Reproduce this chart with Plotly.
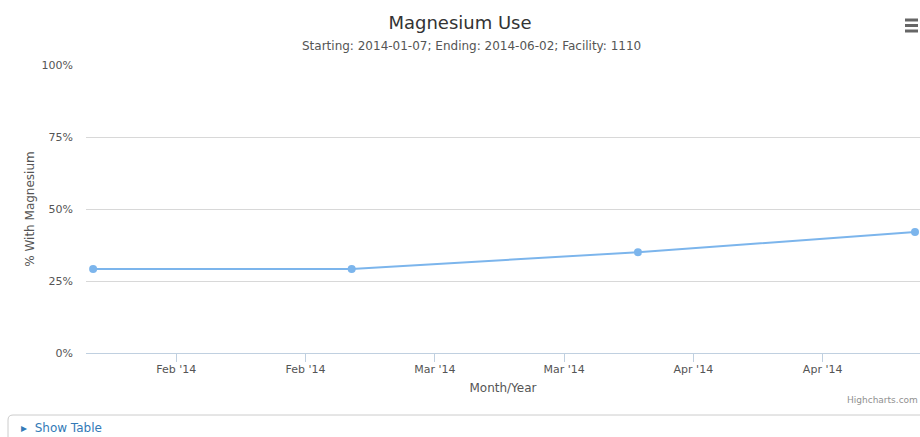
import plotly.graph_objects as go

dates = ["2014-02-01", "2014-03-01", "2014-04-01", "2014-05-01"]
pct_with_magnesium = [29.17, 29.17, 35.0, 42.0]
y_ticks = [0, 25, 50, 75, 100]
y_tick_labels = ["0%", "25%", "50%", "75%", "100%"]

FONT = "Lucida Grande, DejaVu Sans, sans-serif"

fig = go.Figure()
fig.add_trace(go.Scatter(
    x=dates, y=pct_with_magnesium, mode="lines+markers",
    line=dict(color="#7cb5ec", width=2),
    marker=dict(color="#7cb5ec", size=8),
    hoverinfo="x+y", showlegend=False,
))

L, T, W, H = 86, 65, 920, 437
PW, PH = W - L, 353 - T

def px(x):
    return (x - L) / PW

def py(y):
    return (353 - y) / PH

fig.update_layout(
    width=W, height=H,
    margin=dict(l=L, r=0, t=T, b=H - 353),
    paper_bgcolor="white", plot_bgcolor="white",
    font=dict(family=FONT, color="#666666", size=11),
    xaxis=dict(
        range=["2014-01-31 05:30", "2014-05-01 13:00"],
        type="date", tick0="2014-02-10", dtick=14 * 86400000,
        tickformat="%b '%y", showgrid=False,
        showline=True, linecolor="#C0D0E0", linewidth=1,
        ticks="outside", ticklen=8, tickcolor="#C0D0E0",
        ticklabelstandoff=-2,
        tickfont=dict(size=11, color="#555555"),
        title=dict(text="Month/Year", font=dict(size=12, color="#555555"), standoff=8),
        zeroline=False,
    ),
    yaxis=dict(
        range=[0, 100], tickvals=y_ticks, ticktext=y_tick_labels,
        showgrid=True, gridcolor="#D8D8D8", gridwidth=1,
        zeroline=False, showline=False, ticks="",
        ticklabelstandoff=12,
        tickfont=dict(size=11, color="#555555"),
        title=dict(text="% With Magnesium", font=dict(size=12, color="#555555"), standoff=4),
    ),
    title=dict(
        text="Magnesium Use", xref="container", x=0.5, xanchor="center",
        y=1 - 22.5 / H, yanchor="middle",
        font=dict(size=18, color="#333333"),
    ),
    hovermode="closest",
)

fig.add_annotation(
    text="Starting: 2014-01-07; Ending: 2014-06-02; Facility: 1110",
    xref="paper", yref="paper", x=px(471), y=py(46),
    showarrow=False, font=dict(size=12, color="#555555"),
    xanchor="center", yanchor="middle",
)
fig.add_annotation(
    text="Highcharts.com", xref="paper", yref="paper", x=1.0, y=py(400),
    xanchor="right", yanchor="middle", showarrow=False,
    font=dict(size=9, color="#909090"),
)
fig.add_annotation(
    text="<b>▸</b>  Show Table", xref="paper", yref="paper", x=px(19), y=py(428),
    xanchor="left", yanchor="middle", showarrow=False,
    font=dict(size=12, color="#337ab7"),
)
# Show Table panel border
fig.add_shape(type="path", xref="paper", yref="paper",
              path=f"M {px(922)},{py(415)} L {px(13)},{py(415)} Q {px(8)},{py(415)} {px(8)},{py(420)} L {px(8)},{py(440)}",
              line=dict(color="#cccccc", width=1))
# hamburger menu icon
for yy in (20, 25.5, 31):
    fig.add_shape(type="line", xref="paper", yref="paper",
                  x0=px(905), x1=px(918), y0=py(yy), y1=py(yy),
                  line=dict(color="#666666", width=3))

fig.write_html(
    "out.html",
    config={"displayModeBar": False},
    post_script="document.body.style.margin='0';document.body.style.padding='0';",
)
